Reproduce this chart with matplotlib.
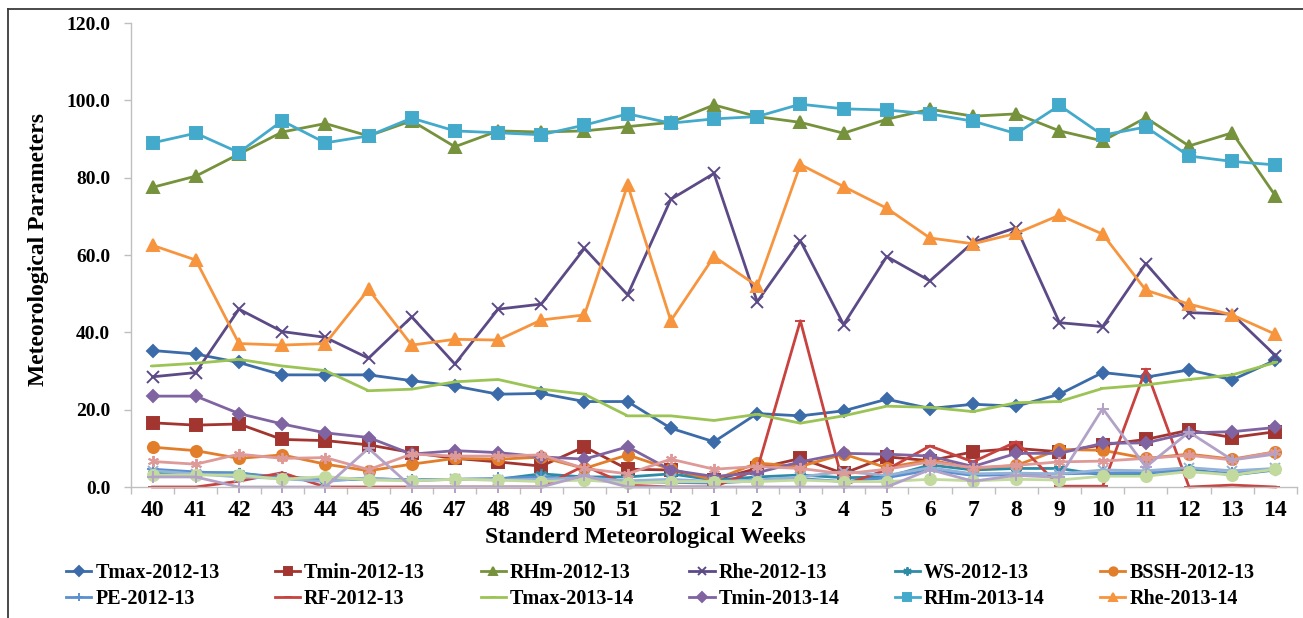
import numpy as np
import matplotlib
matplotlib.use("Agg")
from matplotlib import pyplot as plt
from matplotlib.lines import Line2D

# standard meteorological weeks, Oct 2012/13 -> Apr
weeks = ["40", "41", "42", "43", "44", "45", "46", "47", "48", "49", "50", "51", "52",
         "1", "2", "3", "4", "5", "6", "7", "8", "9", "10", "11", "12", "13", "14"]

tmax_1213 = [35.3, 34.4, 32.2, 29.0, 29.0, 29.0, 27.5, 26.1, 24.0, 24.2, 22.1, 22.1, 15.2,
             11.7, 19.0, 18.4, 19.7, 22.7, 20.3, 21.4, 20.9, 24.0, 29.6, 28.4, 30.3, 27.7, 32.8]
tmin_1213 = [16.6, 16.0, 16.3, 12.3, 12.0, 10.9, 8.9, 7.4, 6.5, 5.4, 10.4, 4.6, 4.4,
             1.8, 4.8, 7.4, 3.5, 7.8, 6.8, 9.1, 10.0, 9.1, 10.9, 12.3, 14.7, 12.8, 14.3]
rhm_1213 = [77.5, 80.4, 86.1, 91.8, 94.0, 90.8, 94.7, 88.0, 92.1, 91.8, 92.1, 93.2, 94.3,
            98.8, 95.8, 94.3, 91.5, 95.1, 97.7, 95.9, 96.5, 92.1, 89.5, 95.5, 88.2, 91.6, 75.3]
rhe_1213 = [28.5, 29.6, 46.0, 40.2, 38.7, 33.3, 44.0, 31.8, 46.0, 47.3, 61.7, 49.7, 74.4,
            81.1, 47.9, 63.7, 42.0, 59.6, 53.3, 63.3, 67.1, 42.5, 41.5, 57.8, 45.1, 44.7, 34.0]
ws_1213 = [3.7, 3.7, 3.7, 2.2, 1.8, 2.0, 1.8, 2.0, 2.0, 3.4, 2.6, 2.6, 3.4,
           1.8, 2.6, 3.1, 2.4, 2.6, 5.7, 4.4, 4.8, 4.8, 3.1, 3.5, 4.6, 3.1, 4.4]
bssh_1213 = [10.3, 9.4, 7.4, 8.3, 5.9, 4.2, 5.9, 7.4, 7.2, 7.7, 4.8, 8.3, 4.6,
             1.8, 6.2, 5.3, 8.5, 5.0, 7.0, 4.8, 5.6, 9.7, 9.5, 7.4, 8.5, 7.2, 9.1]
pe_1213 = [4.6, 3.9, 3.4, 2.7, 2.0, 2.2, 1.8, 2.0, 2.2, 2.6, 2.2, 1.4, 1.2,
           1.0, 1.6, 2.2, 1.4, 2.4, 4.4, 3.0, 3.2, 3.4, 3.6, 3.8, 4.0, 3.6, 4.6]
rf_1213 = [0.0, 0.0, 1.5, 3.7, 0.0, 0.0, 0.0, 0.0, 0.0, 0.0, 5.5, 0.5, 0.0,
           0.0, 4.5, 43.0, 0.5, 4.5, 10.6, 6.5, 11.7, 0.2, 0.2, 30.5, 0.0, 0.5, 0.0]

tmax_1314 = [31.3, 32.0, 33.0, 31.3, 30.1, 24.9, 25.3, 27.2, 27.8, 25.3, 24.0, 18.4, 18.4,
             17.2, 18.8, 16.5, 18.4, 20.9, 20.6, 19.5, 21.8, 22.1, 25.5, 26.4, 27.8, 29.0, 32.2]
tmin_1314 = [23.5, 23.5, 19.0, 16.3, 14.0, 12.8, 8.5, 9.4, 8.9, 7.8, 7.2, 10.4, 4.4,
             2.7, 3.7, 6.5, 8.7, 8.5, 8.0, 5.3, 8.7, 8.7, 11.3, 11.4, 14.0, 14.3, 15.4]
rhm_1314 = [89.0, 91.5, 86.5, 94.7, 89.0, 90.8, 95.4, 92.1, 91.6, 91.1, 93.6, 96.5, 94.1,
            95.2, 95.8, 99.0, 97.8, 97.5, 96.5, 94.6, 91.4, 98.7, 91.0, 93.1, 85.6, 84.2, 83.3]
rhe_1314 = [62.5, 58.7, 37.1, 36.7, 37.1, 51.1, 36.7, 38.2, 38.0, 43.2, 44.5, 78.1, 43.0,
            59.6, 52.0, 83.4, 77.7, 72.1, 64.4, 62.9, 65.6, 70.3, 65.4, 50.9, 47.3, 44.5, 39.5]
ws_1314 = [4.2, 3.4, 2.6, 2.2, 1.4, 2.4, 1.6, 2.0, 1.8, 2.0, 2.4, 1.6, 2.0,
           1.4, 1.8, 2.6, 4.0, 3.0, 5.0, 3.4, 3.6, 3.4, 4.4, 4.2, 5.0, 4.2, 4.8]
bssh_1314 = [6.6, 5.9, 8.5, 7.4, 7.6, 4.5, 8.5, 8.0, 8.0, 8.3, 4.8, 3.4, 7.2,
             4.6, 5.3, 4.8, 3.4, 4.6, 6.5, 5.0, 5.6, 6.5, 6.7, 7.4, 8.2, 7.0, 9.1]
pe_1314 = [3.1, 3.1, 3.1, 2.0, 2.7, 1.8, 1.6, 2.0, 1.8, 1.4, 1.8, 1.0, 1.4,
           1.4, 1.4, 1.8, 1.4, 1.4, 2.0, 1.6, 2.0, 1.8, 2.8, 2.8, 4.0, 3.1, 4.6]
rf_1314 = [2.6, 2.6, 0.0, 0.0, 0.0, 10.0, 0.0, 0.0, 0.0, 0.0, 3.0, 0.0, 0.0,
           0.0, 0.0, 0.0, 0.0, 0.0, 4.5, 1.5, 3.0, 2.5, 20.3, 5.2, 14.2, 7.0, 8.5]

asterisk = (6, 2, 0)

# label, values, colour, marker, marker size
series = [
    ("Tmax-2012-13", tmax_1213, "#3B6BA8", "D", 6.5),
    ("Tmin-2012-13", tmin_1213, "#A2352F", "s", 8),
    ("RHm-2012-13", rhm_1213, "#76923C", "^", 8),
    ("Rhe-2012-13", rhe_1213, "#5C4A87", "x", 8),
    ("WS-2012-13", ws_1213, "#2E8BA6", asterisk, 8),
    ("BSSH-2012-13", bssh_1213, "#E27D2A", "o", 8),
    ("PE-2012-13", pe_1213, "#5A8FD0", "+", 8),
    ("RF-2012-13", rf_1213, "#C8423F", "_", 7),
    ("Tmax-2013-14", tmax_1314, "#9BC455", "_", 5),
    ("Tmin-2013-14", tmin_1314, "#8064A2", "D", 6.5),
    ("RHm-2013-14", rhm_1314, "#44AACB", "s", 8),
    ("Rhe-2013-14", rhe_1314, "#F7953F", "^", 8),
    ("WS-2013-14", ws_1314, "#95B3D7", "x", 7),
    ("BSSH-2013-14", bssh_1314, "#DE9A98", asterisk, 8),
    ("PE-2013-14", pe_1314, "#C3DA9E", "o", 8),
    ("RF-2013-14", rf_1314, "#B3A2C7", "+", 8),
]

plt.rcParams["font.family"] = ["Liberation Serif", "DejaVu Serif"]
plt.rcParams["font.weight"] = "bold"

W, H = 1303, 618
fig = plt.figure(figsize=(W / 100, H / 100), dpi=100)
ax = fig.add_axes([131 / W, 1 - 487 / H, (1297 - 131) / W, (487 - 23) / H])

x = np.arange(len(weeks))
handles = []
for label, vals, color, marker, ms in series:
    (ln,) = ax.plot(x, vals, color=color, lw=2.0, marker=marker, ms=ms,
                    mew=1.4, mec=color, mfc=color, label=label, clip_on=False)
    handles.append(ln)

ax.set_xlim(-0.5, len(weeks) - 0.5)
ax.set_ylim(0, 120)

ax.set_xticks(x)
ax.set_xticklabels(weeks, fontsize=17, fontweight="bold")
ax.set_xticks(np.arange(-0.5, len(weeks), 1), minor=True)
ax.tick_params(axis="x", which="major", length=0, pad=9)
ax.tick_params(axis="x", which="minor", length=5, color="#BFBFBF", width=1)

yt = np.arange(0, 121, 20)
ax.set_yticks(yt)
ax.set_yticklabels([f"{v:.1f}" for v in yt], fontsize=14, fontweight="bold")
ax.tick_params(axis="y", length=5, color="#BFBFBF", width=1, pad=10)

for side in ("top", "right"):
    ax.spines[side].set_visible(False)
for side in ("left", "bottom"):
    ax.spines[side].set_color("#BFBFBF")
    ax.spines[side].set_linewidth(1)

fig.text(39 / W, 1 - 250 / H, "Meteorological Parameters", rotation=90,
         ha="center", va="center", fontsize=17, fontweight="bold")
fig.text(645 / W, 1 - 538 / H, "Standerd Meteorological Weeks",
         ha="center", va="center", fontsize=17, fontweight="bold")

# only the first twelve series fit in the legend; lay it out row by row
shown = handles[:12]
order = [0, 6, 1, 7, 2, 8, 3, 9, 4, 10, 5, 11]
fig.legend([shown[i] for i in order], [shown[i].get_label() for i in order],
           loc="upper left", bbox_to_anchor=(66 / W, 1 - 563 / H), ncol=6,
           frameon=False, fontsize=14.5, handlelength=1.25, handletextpad=0.2,
           columnspacing=2.75, labelspacing=0.32, borderpad=0, borderaxespad=0,
           markerscale=0.75)

# chart frame
fig.add_artist(Line2D([8 / W, 8 / W], [0, 1 - 9 / H], transform=fig.transFigure,
                      color="#3A3A3A", lw=1.3))
fig.add_artist(Line2D([8 / W, 1], [1 - 9 / H, 1 - 9 / H], transform=fig.transFigure,
                      color="#3A3A3A", lw=1.3))

fig.savefig("out.png", dpi=100)
